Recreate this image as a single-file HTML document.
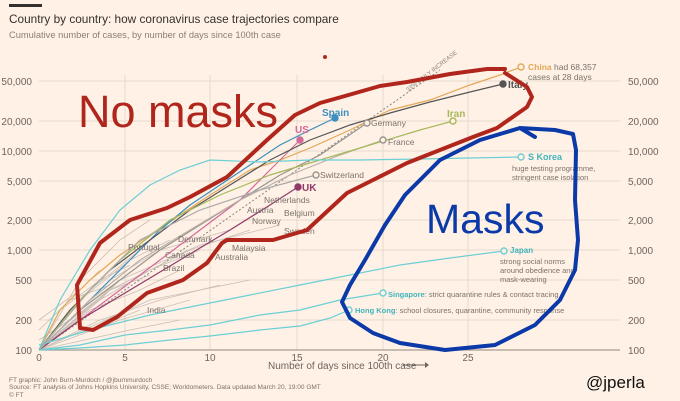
<!DOCTYPE html>
<html><head><meta charset="utf-8"><style>
html,body{margin:0;padding:0;background:#fff1e5;}
svg{display:block;font-family:"Liberation Sans",sans-serif;}
</style></head><body>
<svg width="680" height="401" viewBox="0 0 680 401" xmlns="http://www.w3.org/2000/svg">
<rect width="680" height="401" fill="#fff1e5"/>
<rect x="9" y="4" width="33" height="3" fill="#33302e"/>
<text x="9" y="23" font-size="11.8" fill="#33302e">Country by country: how coronavirus case trajectories compare</text>
<text x="9" y="38" font-size="9.3" fill="#8a7f77">Cumulative number of cases, by number of days since 100th case</text>
<circle cx="325" cy="57" r="2" fill="#b0261d"/>
<g stroke="#e6d9ce" stroke-width="1">
<line x1="39" y1="81" x2="620" y2="81"/><line x1="39" y1="121" x2="620" y2="121"/>
<line x1="39" y1="151" x2="620" y2="151"/><line x1="39" y1="181" x2="620" y2="181"/>
<line x1="39" y1="220" x2="620" y2="220"/><line x1="39" y1="250" x2="620" y2="250"/>
<line x1="39" y1="280" x2="620" y2="280"/><line x1="39" y1="320" x2="620" y2="320"/>
<line x1="125" y1="75" x2="125" y2="350"/><line x1="210" y1="75" x2="210" y2="350"/>
<line x1="297" y1="75" x2="297" y2="350"/><line x1="383" y1="75" x2="383" y2="350"/>
<line x1="468" y1="75" x2="468" y2="350"/>
</g>
<line x1="39" y1="350" x2="620" y2="350" stroke="#a89c92" stroke-width="1.2"/>
<g font-size="10" fill="#6d6560">
<text x="32" y="85" text-anchor="end">50,000</text><text x="32" y="125" text-anchor="end">20,000</text>
<text x="32" y="155" text-anchor="end">10,000</text><text x="32" y="185" text-anchor="end">5,000</text>
<text x="32" y="224" text-anchor="end">2,000</text><text x="32" y="254" text-anchor="end">1,000</text>
<text x="32" y="284" text-anchor="end">500</text><text x="32" y="324" text-anchor="end">200</text>
<text x="32" y="354" text-anchor="end">100</text>
<text x="628" y="85">50,000</text><text x="628" y="125">20,000</text><text x="628" y="155">10,000</text>
<text x="628" y="185">5,000</text><text x="628" y="224">2,000</text><text x="628" y="254">1,000</text>
<text x="628" y="284">500</text><text x="628" y="324">200</text><text x="628" y="354">100</text>
<text x="39" y="361" text-anchor="middle">0</text><text x="125" y="361" text-anchor="middle">5</text>
<text x="210" y="361" text-anchor="middle">10</text><text x="297" y="361" text-anchor="middle">15</text>
<text x="383" y="361" text-anchor="middle">20</text><text x="468" y="361" text-anchor="middle">25</text>
<text x="268" y="369">Number of days since 100th case</text>
</g>
<line x1="403" y1="365" x2="425" y2="365" stroke="#6d6560"/><path d="M425,362 L429,365 L425,368Z" fill="#6d6560"/>
<line x1="39" y1="350" x2="440" y2="70" stroke="#8a8580" stroke-dasharray="2,2"/>
<text x="0" y="0" font-size="6" fill="#8a8580" transform="translate(408,92) rotate(-38)">33% DAILY INCREASE</text>
<g stroke="#c9bfb7" stroke-width="0.8" fill="none">
<path d="M39,350 L100,300 L150,270 L200,250"/><path d="M39,350 L90,310 L140,290 L180,270"/>
<path d="M39,350 L80,300 L130,260 L170,240"/><path d="M39,350 L100,320 L160,300 L220,285"/>
<path d="M39,350 L70,320 L110,290 L150,275"/><path d="M39,345 L90,330 L140,310"/>
<path d="M39,350 L110,280 L160,250 L230,230"/><path d="M39,340 L100,300 L120,280"/>
<path d="M39,350 L60,310 L100,280 L130,265"/><path d="M39,350 L120,320 L190,300"/>
<path d="M39,330 L70,300 L110,285"/><path d="M39,350 L90,290 L140,250"/>
<path d="M39,350 L150,300 L250,280"/><path d="M39,350 L80,280 L120,240 L150,220"/>
<path d="M39,320 L80,290 L100,270"/><path d="M39,350 L130,330 L180,320"/>
<path d="M39,350 L120,280 L200,245 L280,225"/><path d="M39,350 L110,290 L190,250 L250,230"/>
</g>
<g fill="none" stroke-width="1.2">
<path d="M39,350 L60,310 L90,280 L120,255 L150,235 L180,215 L210,195 L250,170 L280,160 L310,148 L350,130 L390,110 L430,100 L470,85 L500,75 L521,67" stroke="#e3a857"/>
<path d="M39,350 L70,320 L100,290 L130,260 L160,230 L190,205 L220,185 L250,165 L280,145 L310,130 L335,118" stroke="#3c8fc0"/>
<path d="M39,350 L80,320 L120,290 L160,260 L200,230 L240,200 L270,170 L300,140" stroke="#d36b9a"/>
<path d="M39,350 L80,320 L130,290 L180,260 L230,230 L270,205 L298,187" stroke="#8e3a6a"/>
<path d="M39,350 L80,310 L120,280 L160,250 L200,225 L240,200 L280,175 L320,155 L367,123" stroke="#9a948f"/>
<path d="M39,350 L90,300 L140,260 L190,230 L240,200 L290,175 L340,155 L383,140" stroke="#b8b0a8"/>
<path d="M39,350 L70,310 L110,270 L150,240 L190,210 L230,185 L270,160 L310,140 L350,125 L390,113 L430,102 L470,92 L503,84" stroke="#555"/>
<path d="M39,350 L80,300 L120,260 L170,220 L220,195 L270,175 L320,160 L370,145 L420,130 L453,121" stroke="#a6b85c"/>
<path d="M39,350 L60,300 L90,250 L120,210 L150,185 L180,170 L210,160 L260,162 L310,160 L360,160 L420,159 L470,158 L521,157" stroke="#6ccfd4"/>
<path d="M39,345 L90,330 L150,315 L200,305 L250,295 L300,285 L350,275 L400,265 L450,258 L504,251" stroke="#6ccfd4"/>
<path d="M39,350 L80,345 L125,335 L170,330 L210,325 L260,315 L300,310 L340,300 L383,293" stroke="#6ccfd4"/>
<path d="M39,350 L80,348 L125,345 L170,340 L210,336 L260,330 L300,326 L330,318 L349,310" stroke="#6ccfd4"/>
<path d="M39,350 L90,290 L140,240 L200,210 L260,190 L316,175" stroke="#aaa"/>
</g>
<g stroke-width="1.4" fill="#fff1e5">
<circle cx="521" cy="67" r="3" stroke="#e3a857"/><circle cx="335" cy="118" r="3" stroke="#3c8fc0" fill="#3c8fc0"/>
<circle cx="300" cy="140" r="3" stroke="#d36b9a" fill="#d36b9a"/><circle cx="298" cy="187" r="3" stroke="#8e3a6a" fill="#8e3a6a"/>
<circle cx="367" cy="123" r="3" stroke="#9a948f"/><circle cx="383" cy="140" r="3" stroke="#9a948f"/>
<circle cx="503" cy="84" r="3" stroke="#555" fill="#555"/><circle cx="453" cy="121" r="3" stroke="#a6b85c"/>
<circle cx="521" cy="157" r="3" stroke="#6ccfd4"/><circle cx="504" cy="251" r="3" stroke="#6ccfd4"/>
<circle cx="383" cy="293" r="3" stroke="#6ccfd4"/><circle cx="349" cy="310" r="3" stroke="#6ccfd4"/>
<circle cx="316" cy="175" r="3" stroke="#9a948f"/>
</g>
<g font-size="8.5" fill="#7a726c">
<text x="528" y="70"><tspan fill="#e3a857" font-weight="bold">China</tspan> had 68,357</text>
<text x="528" y="80">cases at 28 days</text>
<text x="508" y="88" fill="#555" font-weight="bold" font-size="10">Italy</text>
<text x="322" y="116" fill="#3c8fc0" font-weight="bold" font-size="10">Spain</text>
<text x="295" y="133" fill="#d36b9a" font-weight="bold" font-size="10">US</text>
<text x="302" y="191" fill="#8e3a6a" font-weight="bold" font-size="10">UK</text>
<text x="371" y="126">Germany</text><text x="388" y="145">France</text>
<text x="447" y="117" fill="#a6b85c" font-weight="bold" font-size="10">Iran</text>
<text x="528" y="160" fill="#3fb5bc" font-weight="bold" font-size="9">S Korea</text>
<text x="512" y="171" font-size="7.5">huge testing programme,</text><text x="512" y="180" font-size="7.5">stringent case isolation</text>
<text x="510" y="253" fill="#3fb5bc" font-weight="bold" font-size="8">Japan</text>
<text x="500" y="264" font-size="7.5">strong social norms</text><text x="500" y="273" font-size="7.5">around obedience and</text><text x="500" y="282" font-size="7.5">mask-wearing</text>
<text x="388" y="297" font-size="7.5"><tspan fill="#3fb5bc" font-weight="bold">Singapore</tspan>: strict quarantine rules &amp; contact tracing</text>
<text x="355" y="313" font-size="7.5"><tspan fill="#3fb5bc" font-weight="bold">Hong Kong</tspan>: school closures, quarantine, community response</text>
<text x="320" y="178">Switzerland</text><text x="264" y="203">Netherlands</text>
<text x="284" y="216">Belgium</text><text x="247" y="213">Austria</text><text x="252" y="224">Norway</text>
<text x="284" y="234">Sweden</text><text x="178" y="242">Denmark</text><text x="232" y="251">Malaysia</text>
<text x="215" y="260">Australia</text><text x="128" y="250">Portugal</text><text x="165" y="258">Canada</text>
<text x="163" y="271">Brazil</text><text x="147" y="313">India</text>
</g>
<text x="78" y="127" font-size="45" fill="#b0261d">No masks</text>
<text x="426" y="233" font-size="41" fill="#0b3aa8">Masks</text>
<path d="M80,328 L77,285 L100,243 L130,220 L167,208 L190,197 L227,177 L267,140 L295,115 L320,103 L345,96 L380,86 L407,82 L450,74 L487,69 L505,69 M505,73 L527,87 L532,97 L527,107 L497,128 L473,137 L440,150 L407,163 L373,180 L347,193 L307,230 L273,240 L227,240 L222,243 L207,263 L183,280 L147,293 L117,317 L93,330 L80,328" fill="none" stroke="#b0261d" stroke-width="4" stroke-linecap="round" stroke-linejoin="round"/>
<path d="M405,195 L440,160 L480,140 L520,128 L555,130 L573,134 L576,150 L575,200 L578,240 L575,270 L560,300 L535,325 L495,345 L445,350 L400,343 L373,333 L350,318 L342,302 L350,285 L365,260 L385,225 L405,195 M520,128 L535,137" fill="none" stroke="#0b3aa8" stroke-width="4" stroke-linecap="round" stroke-linejoin="round"/>
<g font-size="6.5" fill="#7a726c">
<text x="9" y="382">FT graphic: John Burn-Murdoch / @jburnmurdoch</text>
<text x="9" y="389">Source: FT analysis of Johns Hopkins University, CSSE; Worldometers. Data updated March 20, 19:00 GMT</text>
<text x="9" y="397">© FT</text>
</g>
<text x="586" y="388" font-size="17" fill="#111">@jperla</text>
</svg>
</body></html>
